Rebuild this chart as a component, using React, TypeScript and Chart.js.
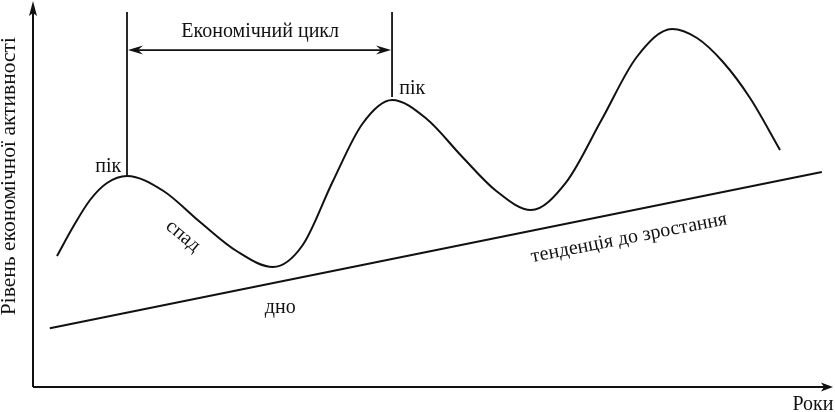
import React, { useEffect, useRef } from "react";
import { Chart, registerables } from "chart.js";

Chart.register(...registerables);

// Business-cycle curve (x: years, y: level of economic activity)
const cycleX = [3.0, 5.0, 7.13, 9.25, 11.75, 16.31, 20.88, 25.44, 30.0, 33.72, 37.44, 41.16, 44.88, 49.22, 53.56, 57.91, 62.25, 66.66, 71.06, 75.47, 79.88, 83.0, 86.25, 89.63, 93.38];
const cycleY = [34.29, 41.88, 48.95, 53.4, 55.24, 51.31, 43.19, 35.6, 31.41, 37.17, 53.66, 68.85, 75.13, 70.16, 60.47, 51.31, 46.34, 53.66, 69.9, 86.39, 93.72, 91.36, 85.08, 75.65, 62.04];

// Growth trend line
const trendX = [2.1, 98.6];
const trendY = [15.4, 56.3];

// Cycle span markers (two peaks)
const peakX = [11.75, 44.88];
const peakY = [55.2, 75.9];
const markerTopY = 98.2;
const spanArrowY = 88.2;

// Text annotations
const noteTexts = ["Економічний цикл", "пік", "пік", "спад", "дно", "тенденція до зростання"];
const noteX = [28.4, 9.4, 47.4, 18.75, 30.9, 74.5];
const noteY = [92.9, 57.6, 78.0, 39.5, 20.7, 39.0];
const noteAngle = [0, 0, 0, 40, 0, -11];

const xAxisTitle = "Роки";
const yAxisTitle = "Рівень економічної активності";

const FONT = "'Liberation Serif', 'DejaVu Serif', serif";
const INK = "#111";

const annotations = {
  id: "annotations",
  afterDraw(chart: any) {
    const { ctx, chartArea, scales } = chart;
    const xs = scales.x;
    const ys = scales.y;
    const { left, right, top, bottom } = chartArea;
    ctx.save();
    ctx.strokeStyle = INK;
    ctx.fillStyle = INK;
    ctx.lineWidth = 2;

    // axes
    ctx.beginPath();
    ctx.moveTo(left, bottom);
    ctx.lineTo(left, top + 8);
    ctx.moveTo(left, bottom);
    ctx.lineTo(right - 6, bottom);
    ctx.stroke();
    // y arrow
    ctx.beginPath();
    ctx.moveTo(left, top - 4);
    ctx.lineTo(left - 4, top + 11);
    ctx.lineTo(left, top + 8);
    ctx.lineTo(left + 4, top + 11);
    ctx.closePath();
    ctx.fill();
    // x arrow
    ctx.beginPath();
    ctx.moveTo(right, bottom);
    ctx.lineTo(right - 12, bottom - 4.5);
    ctx.lineTo(right - 9, bottom);
    ctx.lineTo(right - 12, bottom + 4.5);
    ctx.closePath();
    ctx.fill();

    // span double arrow
    const ay = ys.getPixelForValue(spanArrowY);
    const ax1 = xs.getPixelForValue(peakX[0]);
    const ax2 = xs.getPixelForValue(peakX[1]);
    ctx.lineWidth = 1.6;
    ctx.beginPath();
    ctx.moveTo(ax1 + 4, ay);
    ctx.lineTo(ax2 - 4, ay);
    ctx.stroke();
    const head = (tipX: number, dir: number) => {
      ctx.beginPath();
      ctx.moveTo(tipX, ay);
      ctx.lineTo(tipX + dir * 15, ay - 4.5);
      ctx.lineTo(tipX + dir * 10, ay);
      ctx.lineTo(tipX + dir * 15, ay + 4.5);
      ctx.closePath();
      ctx.fill();
    };
    head(ax1 + 1, 1);
    head(ax2 - 1, -1);

    // text notes
    ctx.textAlign = "center";
    ctx.textBaseline = "middle";
    noteTexts.forEach((t, i) => {
      const px = xs.getPixelForValue(noteX[i]);
      const py = ys.getPixelForValue(noteY[i]);
      ctx.save();
      ctx.translate(px, py);
      ctx.rotate((noteAngle[i] * Math.PI) / 180);
      ctx.font = `20px ${FONT}`;
      ctx.fillText(t, 0, 0);
      ctx.restore();
    });

    // axis titles
    ctx.font = `20px ${FONT}`;
    ctx.fillText(xAxisTitle, xs.getPixelForValue(97.5), ys.getPixelForValue(-4.7));
    ctx.save();
    ctx.font = `21.5px ${FONT}`;
    ctx.translate(xs.getPixelForValue(-3.0), ys.getPixelForValue(55.2));
    ctx.rotate(-Math.PI / 2);
    ctx.fillText(yAxisTitle, 0, 0);
    ctx.restore();

    ctx.restore();
  },
};

export default function App() {
  const ref = useRef<HTMLCanvasElement>(null);
  useEffect(() => {
    if (!ref.current) return;
    const pts = (xa: number[], ya: number[]) => xa.map((x, i) => ({ x, y: ya[i] }));
    const chart = new Chart(ref.current, {
      type: "scatter",
      data: {
        datasets: [
          {
            data: pts(cycleX, cycleY),
            showLine: true,
            borderColor: INK,
            borderWidth: 2,
            pointRadius: 0,
            cubicInterpolationMode: "monotone",
          },
          {
            data: pts(trendX, trendY),
            showLine: true,
            borderColor: INK,
            borderWidth: 2,
            pointRadius: 0,
          },
          {
            data: [
              { x: peakX[0], y: peakY[0] },
              { x: peakX[0], y: markerTopY },
            ],
            showLine: true,
            borderColor: INK,
            borderWidth: 1.8,
            pointRadius: 0,
          },
          {
            data: [
              { x: peakX[1], y: peakY[1] },
              { x: peakX[1], y: markerTopY },
            ],
            showLine: true,
            borderColor: INK,
            borderWidth: 1.8,
            pointRadius: 0,
          },
        ],
      },
      options: {
        responsive: false,
        animation: false,
        layout: { padding: { left: 33, right: 2, top: 5, bottom: 25 } },
        plugins: { legend: { display: false }, tooltip: { enabled: false } },
        scales: {
          x: { type: "linear", min: 0, max: 100, display: false },
          y: { type: "linear", min: 0, max: 100, display: false },
        },
      },
      plugins: [annotations],
    });
    return () => chart.destroy();
  }, []);
  return (
    <div style={{ position: "fixed", left: 0, top: 0, width: 835, height: 412, background: "#fff" }}>
      <canvas ref={ref} width={835} height={412} />
    </div>
  );
}
